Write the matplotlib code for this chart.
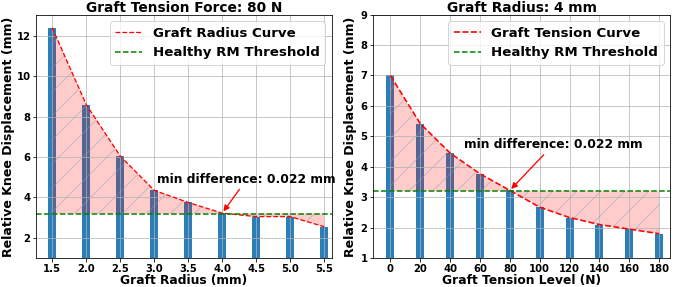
import numpy as np
import matplotlib
matplotlib.use("Agg")
import matplotlib.pyplot as plt

plt.rcParams['font.weight'] = 'bold'
plt.rcParams['axes.labelweight'] = 'bold'
plt.rcParams['axes.titleweight'] = 'bold'

# left panel: varying graft radius at 80 N
radius = [1.5, 2.0, 2.5, 3.0, 3.5, 4.0, 4.5, 5.0, 5.5]
radius_disp = [12.4, 8.6, 6.05, 4.35, 3.75, 3.222, 3.05, 3.05, 2.55]

# right panel: varying tension at 4 mm radius
tension = [0, 20, 40, 60, 80, 100, 120, 140, 160, 180]
tension_disp = [7.0, 5.42, 4.45, 3.77, 3.222, 2.67, 2.33, 2.1, 1.95, 1.8]

threshold = 3.2
min_diff = 0.022


def panel(ax, x, y, width, curve_label, lw, title, xlabel, xlim, ylim, xytext, ylab_x):
    x = np.array(x)
    y = np.array(y)
    ax.bar(x, y, width=width, color='tab:blue', alpha=0.95)
    ax.plot(x, y, '--', color='red', lw=lw, label=curve_label)
    ax.axhline(threshold, color='green', ls='--', lw=1.5, label='Healthy RM Threshold')
    ax.fill_between(x, y, threshold, facecolor='red', alpha=0.2, lw=0)
    ax.fill_between(x, y, threshold, facecolor='none', edgecolor='#8a9ab0', alpha=0.45,
                    hatch='/', lw=0)
    i = np.argmin(np.abs(y - threshold))
    ax.annotate(f"min difference: {min_diff} mm", xy=(x[i], y[i]), xytext=xytext,
                ha='center', va='center', fontsize=12.2, fontweight='bold',
                arrowprops=dict(arrowstyle='-|>', color='red', lw=1.3))
    ax.set_title(title, fontsize=13.8, pad=3)
    ax.set_xlabel(xlabel, fontsize=12.2)
    ax.set_ylabel('Relative Knee Displacement (mm)', fontsize=12.6)
    ax.xaxis.set_label_coords(0.5, -0.066)
    ax.yaxis.set_label_coords(ylab_x, 0.5)
    ax.set_xticks(x)
    ax.tick_params(labelsize=10, pad=2)
    ax.set_xlim(*xlim)
    ax.set_ylim(*ylim)
    ax.grid(color='#b0b0b0', linewidth=1.0, alpha=0.7)
    ax.legend(loc='upper right', prop={'weight': 'bold', 'size': 13.4})


fig = plt.figure(figsize=(677 / 72, 287 / 72), dpi=72)
ax1 = fig.add_axes([0.053, 0.101, 0.437, 0.848])
ax2 = fig.add_axes([0.551, 0.101, 0.439, 0.848])

panel(ax1, radius, radius_disp, 0.12, 'Graft Radius Curve', 1.3,
      'Graft Tension Force: 80 N', 'Graft Radius (mm)',
      (1.26, 5.61), (1, 13.05), (4.36, 4.9), -0.071)
ax1.set_xticklabels([f"{v:.1f}" for v in radius])
panel(ax2, tension, tension_disp, 5.4, 'Graft Tension Curve', 1.6,
      'Graft Radius: 4 mm', 'Graft Tension Level (N)',
      (-11.6, 187.4), (1, 9), (109, 4.72), -0.054)

fig.savefig('out.png', dpi=72)
